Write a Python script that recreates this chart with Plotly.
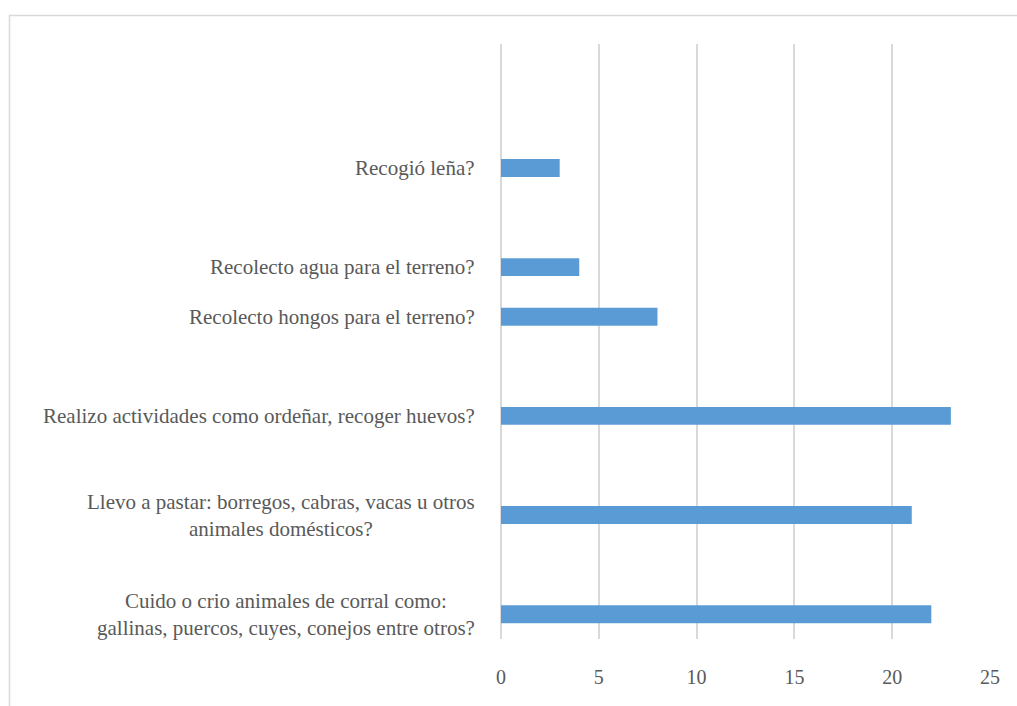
import plotly.graph_objects as go

# Categories from bottom to top (blank slots are empty categories in the original chart)
categories = [
    "Cuido o crio animales de corral como:<br>gallinas, puercos, cuyes, conejos entre otros?",
    "",
    "Llevo a pastar: borregos, cabras, vacas u otros<br>animales domésticos?",
    "",
    "Realizo actividades como ordeñar, recoger huevos?",
    "",
    "Recolecto hongos para el terreno?",
    "Recolecto agua para el terreno?",
    "",
    "Recogió leña?",
    "",
    "",
]
values = [22, None, 21, None, 23, None, 8, 4, None, 3, None, None]
x_ticks = [0, 5, 10, 15, 20, 25]

positions = list(range(len(categories)))

W, H = 1017, 706
ml, mr, mt, mb = 501, 27, 44, 67
pw, ph = W - ml - mr, H - mt - mb

FONT = "Liberation Serif, Times New Roman, serif"
TXT = "#595959"
GRID = "#d9d9d9"

fig = go.Figure()
fig.add_trace(go.Bar(
    x=values, y=positions, orientation="h",
    marker=dict(color="#5b9bd5", line=dict(width=0)),
    hoverinfo="x",
))

annotations = []
for pos, lab in zip(positions, categories):
    if lab:
        annotations.append(dict(
            x=0, xref="paper", y=pos, yref="y", text=lab, showarrow=False,
            xanchor="right", yanchor="middle", xshift=-24, align="center",
            font=dict(family=FONT, size=21, color=TXT),
        ))

# outer chart border (extends past the page edge on right/bottom)
def px_to_paper_x(px):
    return (px - ml) / pw

def px_to_paper_y(py):
    return (H - mb - py) / ph

shapes = [dict(
    type="rect", xref="paper", yref="paper",
    x0=px_to_paper_x(9.5), x1=px_to_paper_x(1030),
    y0=px_to_paper_y(720), y1=px_to_paper_y(15.5),
    line=dict(color=GRID, width=1.5), fillcolor="rgba(0,0,0,0)", layer="below",
)]

fig.update_layout(
    width=W, height=H,
    margin=dict(l=ml, r=mr, t=mt, b=mb, pad=0),
    paper_bgcolor="white", plot_bgcolor="white",
    bargap=0.637,
    showlegend=False,
    annotations=annotations,
    shapes=shapes,
    xaxis=dict(
        range=[0, 25], tickvals=x_ticks, ticktext=[str(v) for v in x_ticks],
        showgrid=True, gridcolor=GRID, gridwidth=1.5,
        zeroline=True, zerolinecolor=GRID, zerolinewidth=1.5,
        showline=False,
        ticks="outside", ticklen=20, tickcolor="rgba(0,0,0,0)",
        tickfont=dict(family=FONT, size=20, color=TXT),
        fixedrange=True,
    ),
    yaxis=dict(
        range=[-0.5, len(categories) - 0.5],
        showticklabels=False, showgrid=False, zeroline=False, showline=False,
        ticks="", fixedrange=True,
    ),
)

fig.write_html("out.html")
